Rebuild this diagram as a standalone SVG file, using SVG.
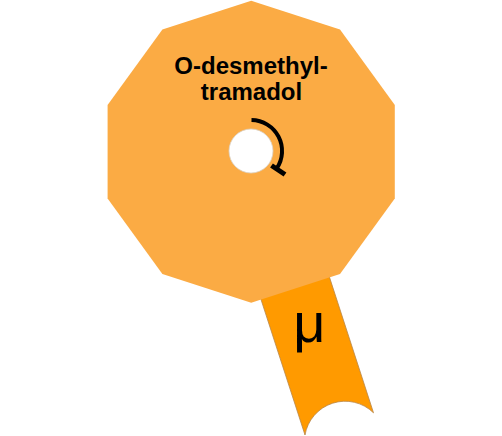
<svg xmlns="http://www.w3.org/2000/svg" width="502" height="436" viewBox="0 0 502 436">
<style>
.lbl{font-family:"Liberation Sans",Arial,sans-serif;fill:#000;text-anchor:middle}
.name{font-size:24px;font-weight:bold}
.rec{font-size:56px}
</style>
<rect width="502" height="436" fill="#fff"/>
<g id="receptor">
<path d="M255.6,282.8 L324.1,260.6 L373.5,412.8 A40.7,40.7 0 0 0 305,435 Z" fill="#ff9a00" stroke="#b8864a" stroke-width="0.8"/>
<text class="lbl rec" x="309.5" y="341.7">μ</text>
</g>
<g id="ligand">
<polygon points="251.2,0.7 340,29.5 394.8,105 394.8,198.4 340,273.9 251.2,302.7 162.4,273.9 107.6,198.4 107.6,105 162.4,29.5" fill="#fbab44"/>
<text class="lbl name"><tspan x="251" y="73.5">O-desmethyl-</tspan><tspan x="251.5" y="100">tramadol</tspan></text>
<circle cx="251" cy="151" r="22" fill="#fff" stroke="#d9d2c8" stroke-width="0.8"/>
<path d="M251.5,120 A31,31 0 0 1 276.7,168.4" fill="none" stroke="#000" stroke-width="4"/>
<line x1="271.5" y1="165.5" x2="285" y2="174.5" stroke="#000" stroke-width="5"/>
</g>
</svg>
